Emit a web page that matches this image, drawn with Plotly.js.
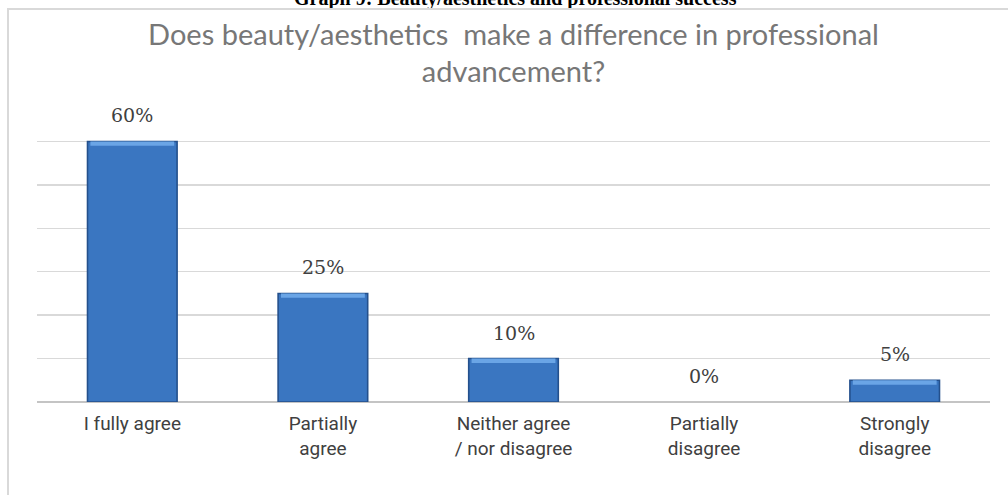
<!DOCTYPE html>
<html>
<head>
<meta charset="utf-8">
<script src="https://cdn.plot.ly/plotly-3.0.1.min.js"></script>
<style>
  html, body { margin: 0; padding: 0; background: #ffffff; overflow: hidden; }
  #wrap { position: relative; width: 1008px; height: 495px; }
  #chart { width: 1008px; height: 495px; }
  #frame {
    position: absolute; left: 7px; top: 8px; width: 1100px; height: 600px;
    border: 2px solid #d9d9d9; pointer-events: none; box-sizing: border-box;
  }
</style>
</head>
<body>
<div id="wrap">
  <div id="chart"></div>
  <div id="frame"></div>
</div>
<script>
// Survey answers and their shares (percent)
const categories = [
  'I fully agree',
  'Partially<br>agree',
  'Neither agree<br>/ nor disagree',
  'Partially<br>disagree',
  'Strongly<br>disagree'
];
const shares = [60, 25, 10, 0, 5];
const shareLabels = ['60%', '25%', '10%', '0%', '5%'];

// thickness (in percent units) of the light bevel along each bar's top edge
const bevel = 1.0;

const bars = {
  type: 'bar',
  x: categories,
  y: shares,
  marker: {
    color: '#3a76c1',
    line: { color: '#24508c', width: shares.map(v => (v > 0 ? 1.6 : 0)) }
  },
  hoverinfo: 'x+y'
};

// lighter strip on top of each bar for a bevelled look
const tops = {
  type: 'bar',
  x: categories,
  y: shares.map(v => (v > 0 ? bevel : 0)),
  base: shares.map(v => (v > 0 ? v - bevel : 0)),
  width: 0.44,
  marker: { color: '#6aa5e6', line: { width: 0 } },
  hoverinfo: 'skip'
};

// value labels floating above each bar
const notes = categories.map((c, i) => ({
  x: c,
  y: shares[i],
  xref: 'x',
  yref: 'y',
  text: shareLabels[i],
  showarrow: false,
  yanchor: 'middle',
  yshift: 26,
  font: { family: 'DejaVu Serif, serif', size: 19, color: '#404040' }
}));

// figure caption sitting above the chart frame
notes.push({
  x: 0.5026,
  y: 1.326,
  xref: 'paper',
  yref: 'paper',
  text: '<b>Graph 9: Beauty/aesthetics and professional success</b>',
  showarrow: false,
  yanchor: 'middle',
  font: { family: 'Liberation Serif, serif', size: 20, color: '#000000' }
});

const layout = {
  width: 1008,
  height: 495,
  margin: { l: 37, r: 18, t: 98, b: 93 },
  paper_bgcolor: '#ffffff',
  plot_bgcolor: '#ffffff',
  showlegend: false,
  barmode: 'overlay',
  bargap: 0.53,
  title: {
    text: 'Does beauty/aesthetics  make a difference in professional<br>advancement?',
    x: 0.5,
    xanchor: 'center',
    xref: 'paper',
    y: 0.91,
    yref: 'container',
    yanchor: 'middle',
    font: { family: 'Lato, sans-serif', size: 29, color: '#777777' }
  },
  xaxis: {
    type: 'category',
    showgrid: false,
    showline: false,
    zeroline: false,
    ticks: '',
    ticklabelstandoff: 8,
    tickfont: { family: 'Roboto, sans-serif', size: 19, color: '#404040' }
  },
  yaxis: {
    range: [0, 70],
    dtick: 10,
    showticklabels: false,
    ticks: '',
    showgrid: true,
    gridcolor: '#d9d9d9',
    gridwidth: 1.3,
    zeroline: true,
    zerolinecolor: '#c4c4c4',
    zerolinewidth: 1.6,
    showline: false
  },
  annotations: notes
};

Plotly.newPlot('chart', [bars, tops], layout, { displayModeBar: false, staticPlot: true });
</script>
</body>
</html>
